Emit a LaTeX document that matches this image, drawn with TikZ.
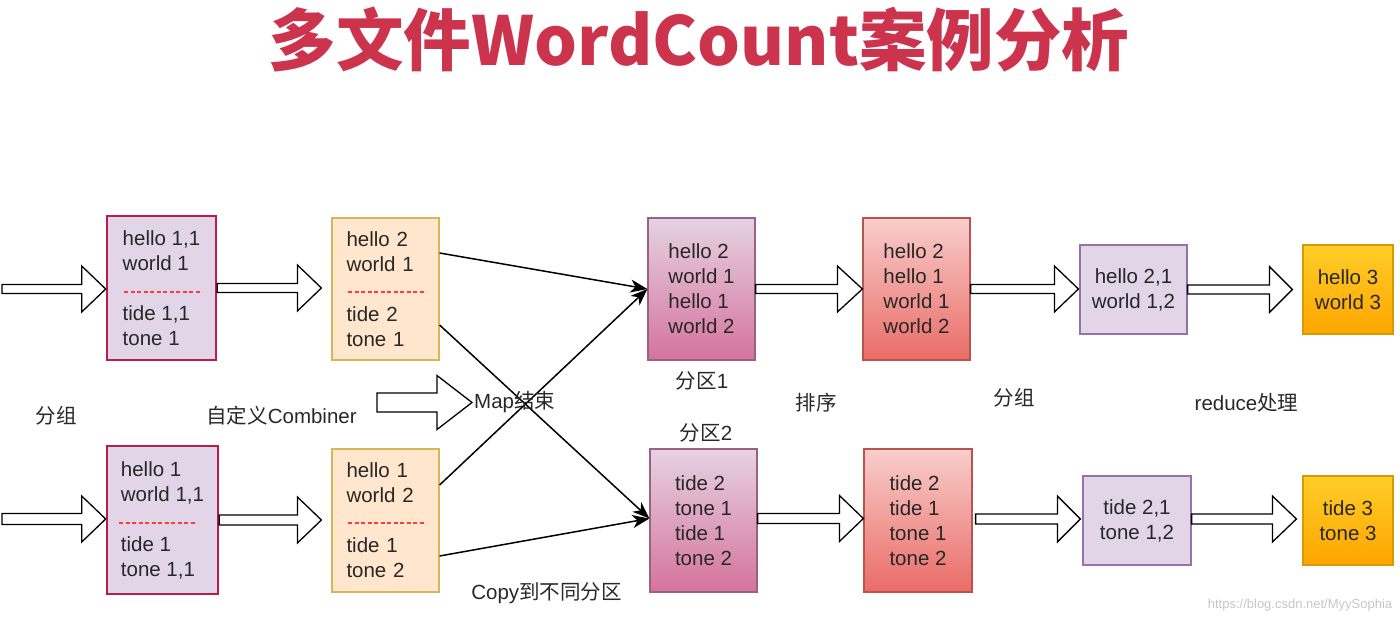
\documentclass[tikz,border=0pt]{standalone}
\usepackage{fontspec}
\setmainfont{Liberation Sans}
\newfontfamily\cjk{Noto Sans CJK SC}
\usetikzlibrary{calc,arrows.meta}
\definecolor{titlered}{RGB}{204,51,77}
\definecolor{txt}{RGB}{40,40,40}
\definecolor{lav}{RGB}{225,213,231}
\definecolor{lavdraw}{RGB}{150,115,166}
\definecolor{crim}{RGB}{181,30,78}
\definecolor{peach}{RGB}{255,230,204}
\definecolor{peachdraw}{RGB}{214,182,86}
\definecolor{ptop}{RGB}{230,210,226}
\definecolor{pbot}{RGB}{213,115,157}
\definecolor{pdraw}{RGB}{153,97,133}
\definecolor{stop}{RGB}{248,206,204}
\definecolor{sbot}{RGB}{234,107,102}
\definecolor{sdraw}{RGB}{184,84,80}
\definecolor{rtop}{RGB}{255,205,40}
\definecolor{rbot}{RGB}{255,165,0}
\definecolor{rdraw}{RGB}{215,155,0}
\definecolor{dashred}{RGB}{255,60,60}
\newcommand\blk[5]{%
  \draw[blockarrow] let \p1=(#1), \p2=(#2) in
   ({\x1},{\y1+#3}) -- ({\x2-#4},{\y1+#3}) -- ({\x2-#4},{\y1+#5}) -- ({\x2},{\y1})
   -- ({\x2-#4},{\y1-#5}) -- ({\x2-#4},{\y1-#3}) -- ({\x1},{\y1-#3}) -- cycle;}
\begin{document}
\begin{tikzpicture}[x=1pt,y=-1pt,
  every node/.style={inner sep=0pt, text=txt, font=\fontsize{20.5}{25}\selectfont},
  boxbase/.style={draw, line width=1.2pt, align=left},
  mapbox/.style={boxbase, fill=lav, draw=crim, line width=2.6pt},
  combbox/.style={boxbase, fill=peach, draw=peachdraw},
  partbox/.style={boxbase, top color=ptop, bottom color=pbot, draw=pdraw},
  sortbox/.style={boxbase, top color=stop, bottom color=sbot, draw=sdraw},
  grpbox/.style={boxbase, fill=lav, draw=lavdraw, align=center},
  redbox/.style={boxbase, top color=rtop, bottom color=rbot, draw=rdraw, align=center},
  blockarrow/.style={draw=black, fill=white, line width=1.3pt, line join=miter},
  thinarrow/.style={draw=black, line width=1.5pt, -{Stealth[length=17pt,width=13pt,inset=5pt]}},
  sep/.style={draw=dashred, line width=2pt, dash pattern=on 4pt off 2.5pt},
  lbl/.style={text=txt}]
\useasboundingbox (0,0) rectangle (1400,620);

% title
\node[font=\cjk\bfseries\fontsize{67.5}{72}\selectfont, text=titlered] (title) at (699,40) {多文件WordCount案例分析};

% map output boxes
\node[mapbox, minimum width=109pt, minimum height=144pt] (a1) at (161.5,288)
  {hello 1,1\\world 1\\[25pt]tide 1,1\\tone 1};
\node[mapbox, minimum width=111pt, minimum height=148pt] (a2) at (162.5,520)
  {hello 1\\world 1,1\\[25pt]tide 1\\tone 1,1};
\draw[sep] (124,292) -- (202,292);
\draw[sep] (119,523) -- (197,523);

% combiner boxes
\node[combbox, minimum width=107pt, minimum height=142pt, text width=78pt] (b1) at (385.5,289)
  {hello 2\\world 1\\[25pt]tide 2\\tone 1};
\node[combbox, minimum width=107pt, minimum height=143pt, text width=78pt] (b2) at (385.5,520.5)
  {hello 1\\world 2\\[25pt]tide 1\\tone 2};
\draw[sep] (348,292) -- (426,292);
\draw[sep] (348,523) -- (426,523);

% partitions
\node[partbox, minimum width=107pt, minimum height=142pt] (p1) at (701.5,289)
  {hello 2\\world 1\\hello 1\\world 2};
\node[partbox, minimum width=107pt, minimum height=143pt] (p2) at (703.5,520.5)
  {tide 2\\tone 1\\tide 1\\tone 2};

% sorted
\node[sortbox, minimum width=107pt, minimum height=142pt] (s1) at (916.5,289)
  {hello 2\\hello 1\\world 1\\world 2};
\node[sortbox, minimum width=108pt, minimum height=143pt] (s2) at (918,520.5)
  {tide 2\\tide 1\\tone 1\\tone 2};

% grouped
\node[grpbox, minimum width=107pt, minimum height=89pt] (g1) at (1133.5,289.5)
  {hello 2,1\\world 1,2};
\node[grpbox, minimum width=108pt, minimum height=89pt] (g2) at (1137,520.5)
  {tide 2,1\\tone 1,2};

% reduce results
\node[redbox, minimum width=90pt, minimum height=89pt] (r1) at (1348,289.5)
  {hello 3\\world 3};
\node[redbox, minimum width=90pt, minimum height=89pt] (r2) at (1348,520.5)
  {tide 3\\tone 3};

% free ends of block arrows
\coordinate (in1) at (2,289);
\coordinate (in2) at (2,519);
\coordinate (mapstart) at (377,402.5);
\coordinate (mapend) at (472,402.5);

% block arrows
\blk{in1}{a1.west}{4.5pt}{24pt}{23pt}
\blk{a1.east}{$(b1.west)+(-10,0)$}{4.5pt}{24pt}{23pt}
\blk{in2}{a2.west}{5.5pt}{24pt}{23pt}
\blk{a2.east}{$(b2.west)+(-10,0)$}{5pt}{24pt}{23pt}
\blk{mapstart}{mapend}{9.5pt}{35pt}{27pt}
\blk{p1.east}{s1.west}{4.5pt}{25pt}{23pt}
\blk{$(p2.east)+(0,-2)$}{s2.west}{5pt}{24pt}{23pt}
\blk{s1.east}{$(g1.west)+(-1,0)$}{4.5pt}{24pt}{23pt}
\blk{$(s2.east)+(3,-1.5)$}{$(g2.west)+(-2,0)$}{5pt}{23pt}{23pt}
\blk{g1.east}{$(r1.west)+(-10,0)$}{4.5pt}{23pt}{23pt}
\blk{$(g2.east)+(0,-1.5)$}{$(r2.west)+(-6,0)$}{5pt}{24pt}{23pt}

% copy connectors
\draw[thinarrow] ($(b1.east)+(0,-36)$) -- (p1.west);
\draw[thinarrow] ($(b1.east)+(0,36)$) -- ($(p2.west)+(0,-2)$);
\draw[thinarrow] ($(b2.east)+(0,-35.5)$) -- (p1.west);
\draw[thinarrow] ($(b2.east)+(0,35.5)$) -- ($(p2.west)+(0,-2)$);

% labels
\node[lbl] (l1) at (56,416) {\cjk 分组};
\node[lbl] (l2) at (281.5,416) {{\cjk 自定义}Combiner};
\node[lbl, anchor=west] (l3) at (474,402) {Map{\cjk 结束}};
\node[lbl] (l4) at (702,381) {{\cjk 分区}1};
\node[lbl] (l5) at (706,433) {{\cjk 分区}2};
\node[lbl] (l6) at (816,403) {\cjk 排序};
\node[lbl] (l7) at (1014,398) {\cjk 分组};
\node[lbl] (l8) at (1246.5,403) {reduce{\cjk 处理}};
\node[lbl] (l9) at (546.5,593) {Copy{\cjk 到不同分区}};
\node[text=gray!45, font=\fontsize{13}{15}\selectfont] (wm) at (1300,605) {https://blog.csdn.net/MyySophia};
\end{tikzpicture}
\end{document}
